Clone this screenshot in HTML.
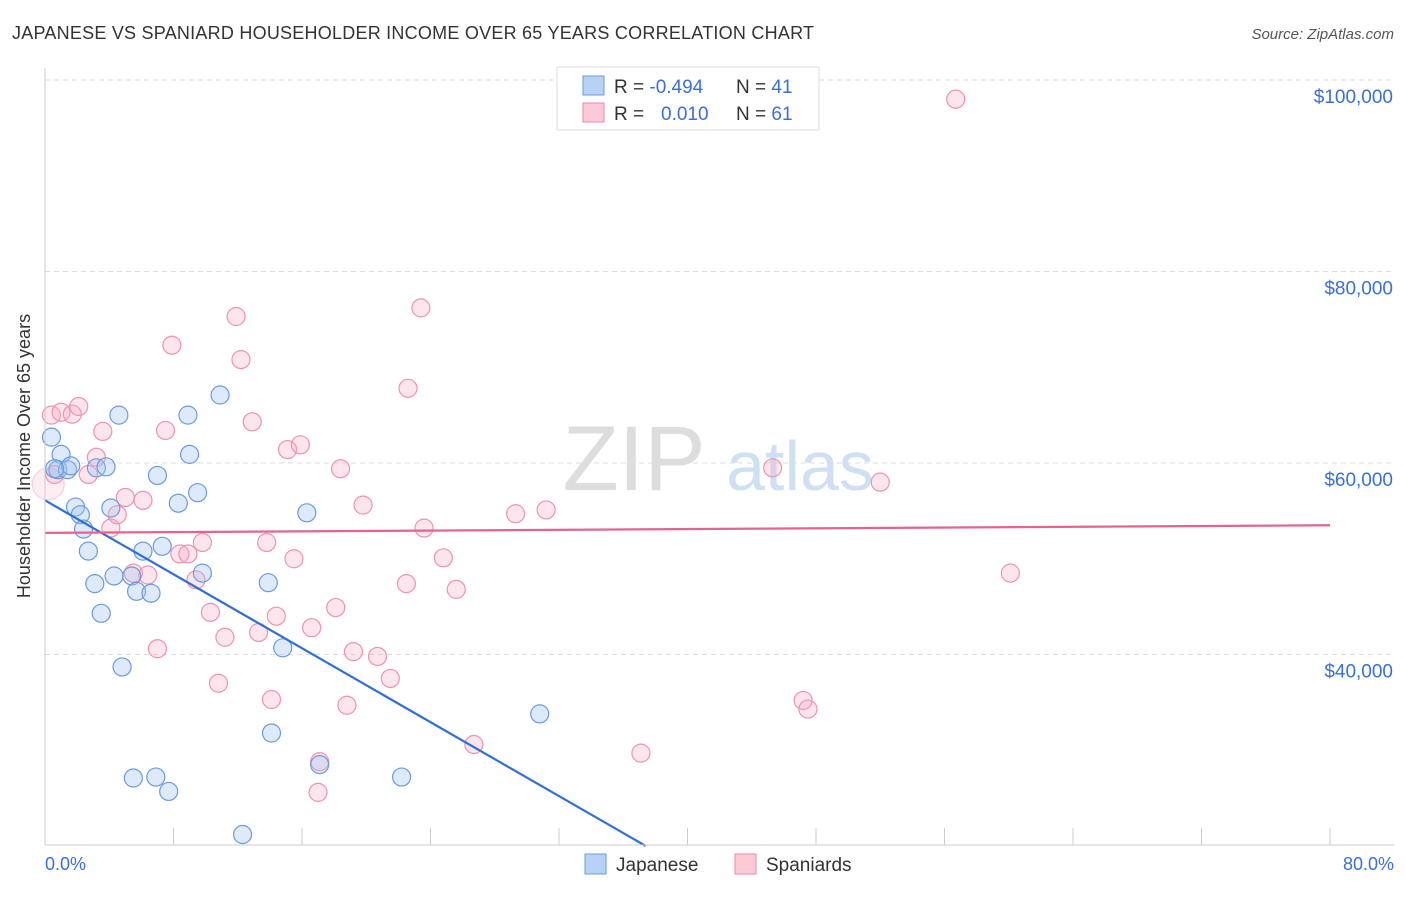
<!DOCTYPE html>
<html><head><meta charset="utf-8"><style>
body{margin:0;background:#fff;font-family:"Liberation Sans",sans-serif}
svg text{font-family:"Liberation Sans",sans-serif}
</style></head><body>
<svg width="1406" height="892" id="chart">
<text x="12" y="39" font-size="18" fill="#333" textLength="802">JAPANESE VS SPANIARD HOUSEHOLDER INCOME OVER 65 YEARS CORRELATION CHART</text>
<text x="1394" y="39" font-size="15" fill="#555" text-anchor="end" font-style="italic">Source: ZipAtlas.com</text>
<text x="30" y="456" font-size="18" fill="#333" text-anchor="middle" transform="rotate(-90 30 456)">Householder Income Over 65 years</text>
<text x="634" y="490" font-size="92" fill="#ddd" text-anchor="middle" font-family="Liberation Serif">ZIP</text>
<text x="800" y="490" font-size="70" fill="#cfe0f5" text-anchor="middle">atlas</text>
<g id="grid"></g><g id="pts"></g><g id="lines"></g>
<line x1="45" y1="68" x2="45" y2="845" stroke="#ccc"/>
<line x1="45" y1="845" x2="1394" y2="845" stroke="#ccc"/>
<text x="45" y="870" font-size="18" fill="#3a6fd8">0.0%</text>
<text x="1394" y="870" font-size="18" fill="#3a6fd8" text-anchor="end">80.0%</text>
<g>
<rect x="557" y="67" width="262" height="63" fill="#fff" stroke="#ddd"/>
<rect x="583" y="76" width="21" height="19" fill="#b8d2f5" stroke="#6a9be0"/>
<rect x="583" y="103" width="21" height="19" fill="#fcc9d6" stroke="#e88aa5"/>
<text x="614" y="93" font-size="19" fill="#333">R = <tspan fill="#3a6fd8">-0.494</tspan><tspan x="736">N = </tspan><tspan fill="#3a6fd8">41</tspan></text>
<text x="614" y="120" font-size="19" fill="#333">R = <tspan x="661" fill="#3a6fd8">0.010</tspan><tspan x="736">N = </tspan><tspan fill="#3a6fd8">61</tspan></text>
</g>
<g><rect x="585" y="854" width="21" height="20" fill="#b8d2f5" stroke="#6a9be0"/><text x="616" y="871" font-size="19" fill="#333">Japanese</text></g>
<g><rect x="735" y="854" width="21" height="20" fill="#fcc9d6" stroke="#e88aa5"/><text x="766" y="871" font-size="19" fill="#333">Spaniards</text></g>
</svg>
<script>
const yTicks=[40000,60000,80000,100000];
const yTickLabels=["$40,000","$60,000","$80,000","$100,000"];
const jpX=[0.4,1.0,0.8,1.4,1.6,1.9,2.2,2.4,2.7,3.1,3.5,3.2,3.8,4.1,4.6,4.3,4.8,5.4,5.7,5.5,6.1,6.6,6.9,7.0,7.3,7.7,8.3,8.9,9.0,9.5,9.8,10.9,12.3,13.9,14.1,14.8,16.3,17.1,22.2,30.8,0.6];
const jpY=[62700,60900,59300,59300,59700,55400,54600,53100,50800,47400,44300,59500,59600,55300,65000,48200,38700,48200,46600,27100,50800,46400,27200,58700,51300,25700,55800,65000,60900,56900,48500,67100,21200,47500,31800,40700,54800,28500,27200,33800,59400];
const spX=[0.4,1.0,1.7,2.1,0.6,2.7,3.2,3.6,4.1,4.5,5.0,5.5,6.1,6.4,7.0,7.5,7.9,8.4,8.9,9.4,9.8,10.3,10.8,11.2,11.9,12.2,12.9,13.3,13.8,14.1,14.4,15.1,15.5,15.9,16.6,17.1,17.0,18.1,18.4,18.8,19.2,19.8,20.7,21.5,22.5,22.6,23.4,23.6,24.8,25.6,26.7,29.3,31.2,37.1,45.3,47.2,47.5,52.0,56.7,60.1,0.2];
const spY=[65000,65300,65100,65900,58800,58800,60600,63300,53200,54600,56400,48500,56100,48300,40600,63400,72300,50500,50500,47800,51700,44400,37000,41800,75300,70800,64300,42300,51700,35300,44000,61400,50000,61900,42800,28800,25600,44900,59400,34700,40300,55600,39800,37500,47400,67800,76200,53200,50100,46800,30600,54700,55100,29700,59500,35200,34300,58000,98000,48500,57800];
const N='http://www.w3.org/2000/svg';
const X=v=>45+v/80*1285, Y=v=>80+(100000-v)/20000*191.5;
const g=document.getElementById('grid'),p=document.getElementById('pts'),l=document.getElementById('lines');
function mk(tag,at,par){const e=document.createElementNS(N,tag);for(const k in at)e.setAttribute(k,at[k]);par.appendChild(e);return e;}
yTicks.forEach((t,i)=>{
 const ln=mk('line',{x1:45,x2:1394,y1:Y(t),y2:Y(t),stroke:'#ddd','stroke-dasharray':'5,4'},g);
 
 
 const tx=mk('text',{x:1393,y:Y(t)+23,'font-size':19,fill:'#3a6fd8','text-anchor':'end'},g);
 tx.textContent=yTickLabels[i];
 
 
});
for(let i=1;i<=10;i++){const t=mk('line',{x1:X(i*8),x2:X(i*8),y1:828,y2:845,stroke:'#ccc'},g);
 
 }
spX.forEach((x,i)=>{const big=i==spX.length-1;const c=mk('circle',{cx:X(x),cy:Y(spY[i]),r:big?16:9,fill:big?'rgba(248,170,195,0.2)':'rgba(248,170,195,0.3)',stroke:big?'rgba(238,147,174,0.4)':'#ee93ae','stroke-width':1.2},p);
 
 });
jpX.forEach((x,i)=>{const c=mk('circle',{cx:X(x),cy:Y(jpY[i]),r:9,fill:'rgba(160,195,240,0.35)',stroke:'#6a9be0','stroke-width':1.2},p);
 
 });
const bl=mk('line',{x1:X(0),y1:Y(56100),x2:X(37.4),y2:Y(20000),stroke:'#2f6fd6','stroke-width':2.2},l);


const pl=mk('line',{x1:X(0),y1:Y(52700),x2:X(80),y2:Y(53500),stroke:'#e5648f','stroke-width':2.2},l);


</script>
</body></html>
